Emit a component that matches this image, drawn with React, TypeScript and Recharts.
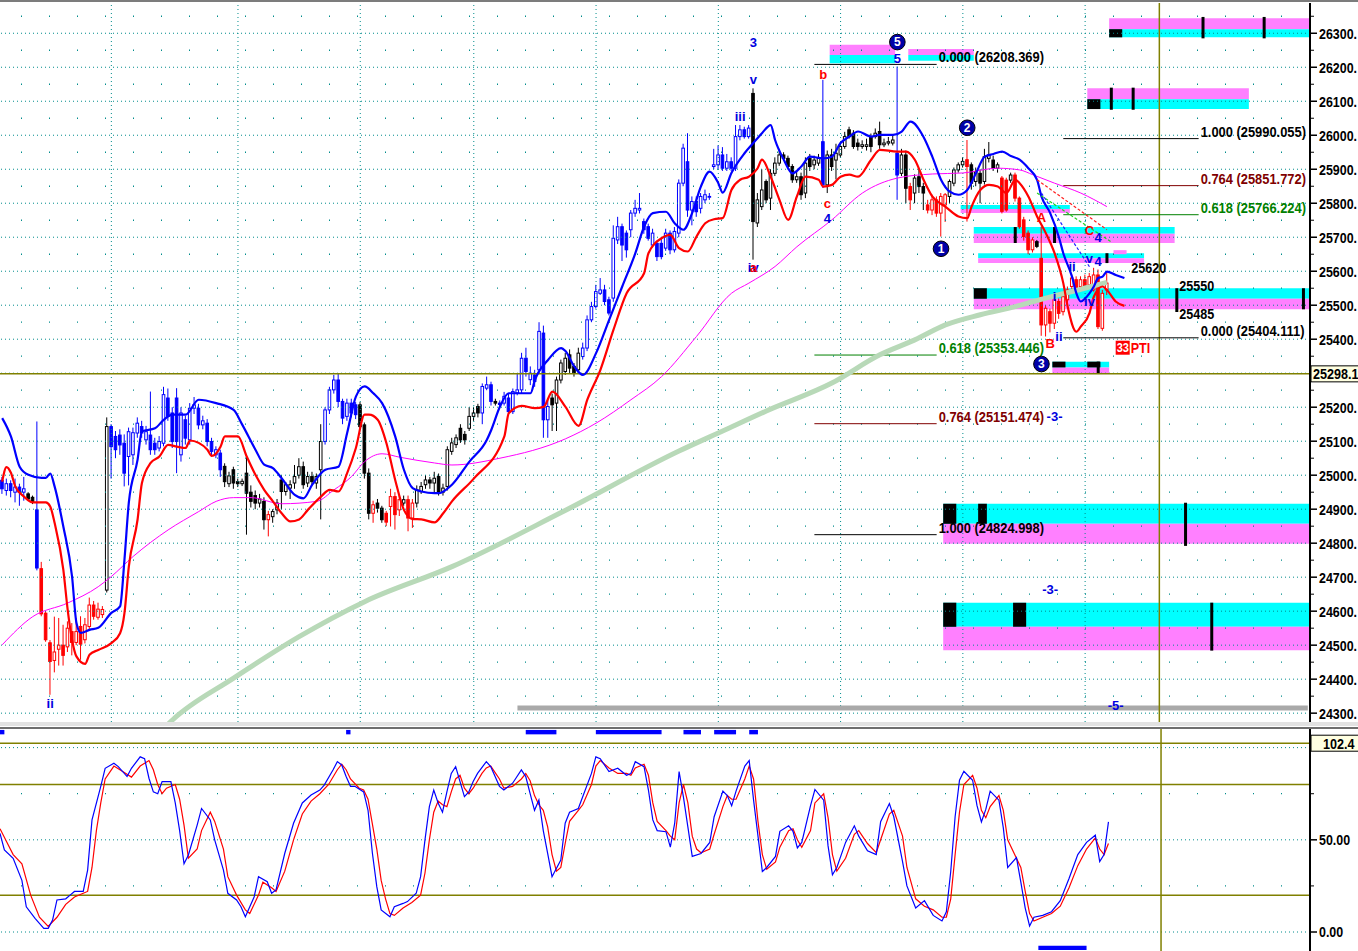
import React from "react";
import {
  ComposedChart,
  Bar,
  Line,
  XAxis,
  YAxis,
  ReferenceLine,
  ReferenceArea,
  ReferenceDot,
} from "recharts";

type Candle = [number, number, number, number, string]; // open, high, low, close, colour code
type Pt = [number, number]; // bar index, value

// ---------------- candles (bar index = position in the concatenated list) ----------------
const candlesA: Candle[] = [
  [24985, 24995, 24945, 24960, "b"], [24955, 24990, 24940, 24975, "b"], [24975, 24985, 24935, 24955, "b"],
  [24950, 24990, 24920, 24965, "b"], [24965, 24975, 24910, 24950, "b"], [24950, 24995, 24925, 24960, "b"],
  [24945, 24950, 24925, 24930, "k"], [24935, 24940, 24915, 24920, "k"], [24898, 25158, 24720, 24727, "b"],
  [24725, 24745, 24585, 24592, "r"], [24594, 24600, 24510, 24516, "r"], [24507, 24515, 24354, 24452, "r"],
  [24455, 24584, 24420, 24480, "r"], [24488, 24580, 24440, 24500, "r"], [24500, 24560, 24440, 24470, "r"],
  [24495, 24570, 24480, 24550, "r"], [24540, 24565, 24470, 24508, "r"], [24508, 24580, 24500, 24540, "r"],
  [24555, 24585, 24457, 24503, "r"], [24516, 24580, 24505, 24560, "r"], [24555, 24640, 24545, 24618, "r"],
  [24618, 24630, 24575, 24585, "r"], [24582, 24625, 24575, 24606, "r"], [24590, 24615, 24580, 24605, "r"],
  [24662, 25170, 24655, 25143, "k"], [25143, 25150, 24990, 25084, "b"], [25114, 25130, 25050, 25075, "b"],
  [25118, 25135, 25060, 25089, "b"], [25094, 25120, 24967, 25006, "b"], [25055, 25140, 24970, 25128, "b"],
  [25060, 25140, 25030, 25125, "b"], [25124, 25170, 25110, 25153, "b"], [25143, 25160, 25110, 25124, "b"],
  [25104, 25145, 25090, 25128, "b"], [25118, 25246, 25060, 25075, "b"], [25094, 25110, 25060, 25075, "b"],
  [25080, 25115, 25070, 25099, "b"], [25094, 25260, 25085, 25237, "b"], [25227, 25255, 25160, 25173, "b"],
  [25183, 25200, 25080, 25099, "b"], [25227, 25256, 25006, 25099, "b"], [25060, 25200, 25040, 25183, "b"],
  [25163, 25175, 25090, 25109, "b"], [25104, 25212, 25090, 25197, "b"], [25197, 25230, 25180, 25207, "b"],
  [25197, 25210, 25135, 25148, "b"], [25148, 25175, 25135, 25160, "b"], [25153, 25165, 25085, 25099, "b"],
  [25099, 25110, 25055, 25070, "b"], [25060, 25085, 25050, 25075, "b"], [25065, 25075, 24995, 25016, "b"],
  [25026, 25035, 24965, 24981, "k"], [24975, 25010, 24965, 24998, "k"], [25016, 25025, 24960, 24977, "k"],
  [24981, 24990, 24965, 24975, "k"], [24975, 24990, 24968, 24982, "k"], [25006, 25060, 24825, 24947, "k"],
  [24950, 24970, 24905, 24923, "k"], [24940, 24955, 24900, 24918, "k"], [24918, 24945, 24905, 24930, "k"],
  [24923, 24935, 24840, 24869, "k"], [24869, 24895, 24820, 24884, "r"], [24878, 24900, 24860, 24893, "k"],
  [24898, 24930, 24885, 24918, "k"], [24986, 25000, 24900, 24952, "k"], [24952, 24980, 24940, 24972, "k"],
  [24962, 24985, 24930, 24972, "k"], [24977, 25030, 24960, 24996, "k"], [25000, 25050, 24990, 25025, "k"],
  [25025, 25040, 24960, 24972, "k"], [24977, 25010, 24965, 24996, "k"], [24996, 25010, 24970, 24981, "k"],
  [24977, 25005, 24960, 24996, "k"], [25016, 25150, 24870, 25099, "k"], [25099, 25200, 25090, 25192, "b"],
  [25192, 25260, 25180, 25251, "b"], [25251, 25295, 25240, 25280, "b"], [25280, 25300, 25200, 25217, "b"],
  [25217, 25225, 25150, 25168, "b"], [25173, 25225, 25160, 25212, "b"], [25212, 25225, 25170, 25183, "b"],
  [25207, 25215, 25165, 25178, "b"], [25207, 25215, 25135, 25143, "k"], [25148, 25155, 24990, 25006, "k"],
  [25006, 25020, 24870, 24888, "k"], [24888, 24925, 24860, 24913, "r"], [24918, 24930, 24890, 24903, "k"],
  [24903, 24910, 24860, 24869, "k"], [24888, 24895, 24850, 24862, "r"], [24908, 24960, 24849, 24937, "r"],
  [24937, 24950, 24840, 24884, "r"], [24898, 24940, 24880, 24928, "r"], [24918, 24940, 24910, 24928, "k"],
  [24928, 24940, 24835, 24874, "r"], [24874, 24930, 24845, 24918, "r"], [24918, 24970, 24905, 24957, "k"],
  [24952, 24980, 24945, 24967, "k"], [24972, 25000, 24960, 24986, "k"], [24986, 24995, 24960, 24977, "k"],
  [24977, 25010, 24945, 24991, "k"], [24996, 25005, 24940, 24952, "k"], [24950, 24975, 24940, 24962, "k"],
  [24967, 25085, 24955, 25075, "k"],
];

const candlesB: Candle[] = [
  [25070, 25110, 25060, 25095, "k"], [25090, 25120, 25080, 25110, "k"], [25138, 25150, 25095, 25104, "k"],
  [25120, 25130, 25090, 25104, "k"], [25138, 25200, 25130, 25173, "k"], [25173, 25200, 25160, 25183, "k"],
  [25202, 25210, 25170, 25183, "k"], [25183, 25270, 25150, 25261, "b"], [25256, 25290, 25250, 25266, "b"],
  [25266, 25275, 25205, 25217, "b"], [25217, 25225, 25205, 25212, "k"], [25212, 25220, 25200, 25208, "b"],
  [25212, 25245, 25205, 25232, "b"], [25227, 25240, 25175, 25187, "b"], [25187, 25255, 25180, 25246, "b"],
  [25242, 25300, 25235, 25251, "b"], [25251, 25360, 25240, 25344, "b"], [25344, 25375, 25290, 25305, "b"],
  [25281, 25320, 25265, 25300, "b"], [25295, 25310, 25260, 25276, "b"], [25310, 25450, 25300, 25423, "b"],
  [25418, 25440, 25110, 25163, "b"], [25163, 25220, 25110, 25202, "b"], [25227, 25240, 25130, 25207, "k"],
  [25212, 25290, 25130, 25280, "k"], [25280, 25340, 25270, 25330, "k"], [25305, 25360, 25295, 25344, "k"],
  [25354, 25370, 25300, 25315, "k"], [25320, 25330, 25290, 25300, "k"], [25310, 25375, 25300, 25359, "k"],
  [25349, 25390, 25340, 25374, "b"], [25374, 25470, 25365, 25457, "b"], [25457, 25510, 25450, 25496, "b"],
  [25496, 25560, 25490, 25540, "b"], [25535, 25580, 25530, 25545, "b"], [25545, 25560, 25500, 25511, "b"],
  [25516, 25525, 25470, 25477, "b"], [25521, 25735, 25510, 25697, "b"], [25692, 25760, 25680, 25731, "b"],
  [25731, 25740, 25630, 25677, "b"], [25712, 25720, 25640, 25663, "b"], [25722, 25780, 25700, 25771, "b"],
  [25771, 25810, 25760, 25785, "b"], [25780, 25830, 25770, 25785, "b"], [25746, 25755, 25710, 25722, "b"],
  [25731, 25740, 25690, 25697, "b"], [25677, 25725, 25670, 25712, "b"], [25682, 25690, 25630, 25643, "b"],
  [25682, 25700, 25635, 25643, "b"], [25668, 25725, 25660, 25712, "b"], [25712, 25720, 25650, 25663, "b"],
  [25663, 25730, 25655, 25717, "b"], [25712, 25870, 25700, 25859, "b"], [25859, 25975, 25850, 25962, "b"],
  [25922, 26006, 25760, 25780, "b"], [25780, 25820, 25735, 25805, "b"], [25805, 25820, 25760, 25775, "b"],
  [25785, 25830, 25770, 25820, "b"], [25810, 25840, 25800, 25825, "b"], [25818, 25830, 25810, 25820, "b"],
  [25908, 25960, 25900, 25913, "b"], [25913, 25970, 25900, 25942, "b"], [25942, 25965, 25895, 25903, "b"],
  [25903, 25945, 25895, 25922, "b"], [25922, 25935, 25895, 25903, "b"], [25903, 26030, 25895, 25996, "b"],
  [25996, 26030, 25985, 26016, "b"], [26016, 26025, 25990, 25996, "b"], [25996, 26030, 25990, 26021, "b"],
  [26123, 26138, 25634, 25746, "k"], [25742, 25830, 25730, 25810, "k"], [25790, 25900, 25780, 25839, "k"],
  [25864, 25870, 25800, 25810, "k"], [25815, 25900, 25780, 25888, "k"], [25888, 25935, 25880, 25918, "k"],
  [25918, 25960, 25910, 25942, "k"], [25942, 25950, 25925, 25932, "k"], [25932, 25940, 25900, 25908, "k"],
  [25908, 25915, 25860, 25869, "k"], [25869, 25895, 25860, 25878, "k"], [25878, 25890, 25810, 25825, "k"],
  [25830, 25935, 25815, 25918, "k"], [25932, 25945, 25895, 25908, "k"], [25913, 25940, 25900, 25927, "k"],
  [25918, 25945, 25910, 25932, "k"], [25981, 26163, 25845, 25854, "b"], [25854, 25955, 25830, 25942, "k"],
  [25942, 25960, 25895, 25908, "k"], [25927, 25975, 25870, 25947, "k"], [25942, 25980, 25935, 25967, "k"],
  [25967, 26010, 25960, 25996, "k"], [26016, 26025, 25990, 25996, "k"], [26006, 26015, 25960, 25967, "k"],
  [25977, 25990, 25955, 25967, "k"], [25967, 25985, 25960, 25972, "k"], [25967, 25990, 25955, 25972, "k"],
  [25996, 26005, 25950, 25967, "k"], [25996, 26020, 25990, 26006, "k"], [26011, 26040, 25960, 25972, "k"],
  [25972, 25990, 25965, 25977, "k"], [25977, 25995, 25970, 25981, "k"], [25977, 26000, 25970, 25986, "k"],
  [25947, 26202, 25810, 25883, "b"], [25888, 25960, 25880, 25942, "k"], [25942, 25955, 25800, 25844, "k"],
];

const candlesC: Candle[] = [
  [25849, 25860, 25780, 25810, "r"], [25830, 25885, 25800, 25874, "k"], [25878, 25900, 25830, 25849, "k"],
  [25849, 25860, 25780, 25830, "k"], [25795, 25810, 25770, 25780, "r"], [25780, 25825, 25765, 25810, "r"],
  [25810, 25820, 25760, 25771, "r"], [25771, 25830, 25702, 25820, "r"], [25795, 25830, 25745, 25825, "r"],
  [25820, 25870, 25800, 25864, "k"], [25859, 25905, 25850, 25898, "k"], [25898, 25920, 25890, 25913, "k"],
  [25913, 25935, 25905, 25923, "k"], [25928, 25986, 25746, 25908, "r"], [25913, 25920, 25840, 25859, "k"],
  [25864, 25905, 25850, 25893, "k"], [25888, 25900, 25800, 25859, "k"], [25864, 25960, 25855, 25937, "k"],
  [25932, 25980, 25920, 25942, "k"], [25927, 25940, 25895, 25903, "k"], [25903, 25920, 25890, 25913, "k"],
  [25874, 25880, 25770, 25776, "r"], [25868, 25875, 25775, 25780, "r"], [25868, 25890, 25860, 25883, "k"],
  [25883, 25890, 25805, 25815, "r"], [25815, 25820, 25725, 25731, "r"], [25751, 25760, 25690, 25702, "r"],
  [25712, 25720, 25650, 25663, "r"], [25663, 25700, 25655, 25692, "r"], [25687, 25692, 25668, 25673, "k"],
  [25638, 25731, 25410, 25442, "r"], [25442, 25500, 25408, 25491, "r"], [25481, 25490, 25420, 25447, "r"],
  [25447, 25525, 25430, 25516, "r"], [25511, 25520, 25460, 25476, "r"], [25481, 25535, 25470, 25525, "r"],
  [25516, 25555, 25505, 25545, "r"], [25555, 25590, 25545, 25580, "r"], [25575, 25585, 25540, 25550, "r"],
  [25555, 25585, 25545, 25575, "r"], [25575, 25590, 25545, 25555, "r"], [25560, 25595, 25550, 25584, "r"],
  [25545, 25610, 25540, 25589, "r"], [25589, 25605, 25430, 25437, "r"], [25432, 25545, 25425, 25535, "r"],
  [25545, 25600, 25530, 25565, "r"],
];

// ---------------- overlay lines ----------------
const upperBand: Pt[] = [
  [0, 25168], [2, 25114], [4, 25025], [6, 25001], [9, 24992], [10, 24992], [11, 25005], [12, 24967], [14, 24849],
  [16, 24702], [17, 24566], [18, 24536], [20, 24545], [22, 24551], [25, 24595], [27, 24614], [28, 24751], [29, 24919],
  [31, 25045], [32, 25129], [35, 25138], [37, 25163], [39, 25178], [42, 25178], [45, 25222], [49, 25212], [53, 25192],
  [55, 25148], [58, 25075], [60, 25031], [62, 25021], [64, 24991], [67, 24942], [69, 24932], [71, 24972], [74, 25016],
  [77, 25025], [79, 25124], [81, 25231], [83, 25261], [85, 25241], [87, 25212], [90, 25114], [92, 25016], [94, 24962],
  [96, 24952], [99, 24947], [100, 24947], [103, 24972], [107, 25040], [111, 25104], [112, 25133], [114, 25202],
  [116, 25241], [119, 25241], [121, 25241], [122, 25280], [125, 25339], [128, 25374], [129, 25365], [131, 25320],
  [133, 25295], [136, 25359], [139, 25457], [142, 25555], [145, 25653], [147, 25731], [149, 25771], [152, 25775],
  [154, 25741], [156, 25722], [158, 25771], [160, 25849], [162, 25893], [164, 25859], [165, 25831], [167, 25889],
  [170, 25947], [172, 25977], [174, 26006], [176, 26030], [177, 25986], [179, 25928], [181, 25888], [183, 25908],
  [185, 25937], [188, 25932], [190, 25937], [192, 25977], [194, 25996], [196, 26011], [199, 25996], [201, 26001],
  [204, 26001], [206, 26011], [208, 26040], [211, 25995], [213, 25937], [215, 25869], [217, 25834], [219, 25825],
  [221, 25839], [223, 25888], [225, 25937], [227, 25945], [229, 25952], [231, 25939], [233, 25928], [235, 25903],
  [237, 25869], [238, 25820], [240, 25771], [242, 25700], [243, 25653], [245, 25584], [246, 25535], [247, 25511],
  [248, 25520], [250, 25555], [251, 25580], [252, 25584], [253, 25599], [255, 25589], [257, 25580],
];

const lowerBand: Pt[] = [
  [0, 24981], [1, 25024], [2, 25007], [3, 24967], [5, 24937], [7, 24920], [10, 24920], [11, 24908], [12, 24860],
  [14, 24722], [15, 24604], [16, 24516], [17, 24467], [19, 24445], [20, 24472], [22, 24486], [25, 24506], [27, 24535],
  [28, 24594], [29, 24731], [31, 24869], [32, 24977], [34, 25036], [36, 25055], [38, 25089], [40, 25084], [42, 25080],
  [43, 25102], [45, 25095], [47, 25075], [48, 25057], [50, 25084], [51, 25114], [54, 25114], [56, 25055], [58, 25001],
  [60, 24957], [62, 24923], [64, 24888], [66, 24864], [68, 24870], [70, 24898], [73, 24937], [75, 24957], [77, 24952],
  [79, 25006], [81, 25080], [83, 25178], [84, 25178], [86, 25163], [88, 25094], [90, 24986], [92, 24898], [94, 24871],
  [96, 24870], [99, 24861], [101, 24888], [103, 24923], [108, 24990], [115, 25114], [116, 25182], [119, 25204],
  [122, 25197], [124, 25201], [126, 25246], [129, 25201], [132, 25145], [134, 25222], [137, 25310], [140, 25428],
  [143, 25535], [147, 25594], [148, 25653], [151, 25697], [153, 25707], [155, 25668], [157, 25658], [159, 25702],
  [161, 25741], [163, 25753], [165, 25756], [167, 25839], [169, 25869], [171, 25878], [173, 25903], [174, 25928],
  [176, 25878], [178, 25810], [180, 25751], [182, 25820], [184, 25878], [187, 25869], [188, 25849], [190, 25854],
  [192, 25878], [194, 25884], [196, 25878], [199, 25928], [201, 25957], [205, 25952], [207, 25952], [209, 25928],
  [211, 25869], [213, 25820], [216, 25790], [219, 25761], [221, 25756], [222, 25790], [224, 25839], [226, 25854],
  [228, 25849], [230, 25830], [232, 25869], [233, 25859], [235, 25820], [237, 25761], [239, 25712], [241, 25653],
  [243, 25565], [244, 25496], [246, 25422], [247, 25437], [249, 25477], [250, 25525], [252, 25555], [253, 25545],
  [255, 25511], [257, 25498],
];

const maShort: Pt[] = [
  [0, 24501], [7, 24584], [15, 24624], [22, 24672], [25, 24702], [30, 24761], [38, 24839], [45, 24893], [49, 24923],
  [53, 24934], [57, 24934], [64, 24916], [72, 24923], [76, 24957], [80, 24996], [83, 25040], [87, 25063], [91, 25053],
  [99, 25036], [103, 25030], [114, 25050], [129, 25107], [136, 25153], [144, 25222], [151, 25290], [159, 25408],
  [167, 25535], [171, 25565], [177, 25614], [182, 25672], [190, 25751], [197, 25830], [205, 25874], [213, 25886],
  [220, 25889], [228, 25903], [233, 25898], [236, 25884], [241, 25859], [247, 25830], [253, 25790],
];

const maLong: Pt[] = [
  [33, 24200], [39, 24280], [53, 24403], [68, 24525], [83, 24628], [103, 24731], [128, 24890], [155, 25071],
  [165, 25130], [175, 25189], [190, 25271], [201, 25354], [209, 25398], [216, 25442], [224, 25472], [232, 25496],
  [239, 25521], [247, 25547], [253, 25567],
];

// ---------------- stochastic ----------------
const stochK: Pt[] = [
  [0, 53.5], [1, 44.5], [3, 40], [5, 28], [6, 13.7], [8, 7.4], [10, 2], [11, 2], [12, 6.5], [13, 17.4], [15, 18],
  [16, 20], [17, 22], [19, 22], [20, 33.6], [21, 60.8], [23, 79], [24, 88.8], [26, 91.5], [27, 89.7], [29, 84.3],
  [30, 88.8], [32, 95], [33, 94], [34, 83.4], [35, 76], [36, 75], [37, 81.6], [39, 81.6], [40, 70], [41, 55], [42, 37],
  [43, 41.8], [45, 58], [46, 67], [48, 60.8], [49, 50], [51, 33.6], [52, 21], [54, 17.4], [55, 13.7], [56, 8.3],
  [58, 19], [59, 30], [61, 27.3], [62, 21], [63, 22.8], [65, 42.7], [67, 59], [69, 70], [71, 74.3], [73, 77],
  [74, 79.7], [76, 87.9], [77, 92.4], [78, 90.6], [79, 84.3], [80, 79], [81, 79], [83, 76], [84, 66], [85, 42.7],
  [86, 24.6], [87, 12], [89, 8.3], [90, 13.7], [92, 15.5], [93, 16.5], [95, 21], [96, 30], [97, 50], [98, 68],
  [99, 77], [100, 70], [101, 65], [102, 76], [103, 86], [104, 89.7], [105, 81.6], [106, 73.4], [107, 76], [108, 81.6],
  [109, 86], [111, 92.4], [112, 89.7], [114, 79], [115, 77], [117, 80.7], [119, 87.9], [120, 84.3], [121, 75],
  [122, 66], [123, 71.6], [124, 55], [125, 42.7], [126, 30], [128, 39], [129, 59], [130, 65], [132, 67], [133, 73.4],
  [135, 86], [136, 95], [137, 94], [139, 87], [141, 88.8], [143, 85], [144, 86], [145, 92.4], [147, 89.7], [148, 77],
  [149, 60.8], [150, 55], [152, 54.4], [153, 46], [154, 59], [155, 87], [156, 73], [157, 57], [158, 41], [160, 42.6],
  [162, 48.6], [163, 62.5], [165, 76.4], [166, 74], [167, 68.5], [168, 76.4], [170, 90], [171, 93], [172, 71.5],
  [174, 32.8], [175, 35], [177, 41], [178, 54.6], [180, 57.6], [181, 54.6], [182, 45.6], [183, 48.6], [185, 68.5],
  [186, 77.3], [188, 71.5], [189, 46.7], [190, 31], [191, 35], [193, 48.6], [195, 57.6], [196, 52], [198, 44],
  [200, 42], [201, 59.8], [203, 69.7], [204, 62.5], [206, 38.2], [207, 25], [209, 13], [211, 17], [213, 9], [215, 6],
  [216, 11], [217, 32.8], [218, 62.5], [219, 82.3], [220, 87.2], [222, 82.3], [223, 68.5], [224, 59.7], [225, 66.5],
  [226, 76.4], [228, 71.5], [229, 56.5], [230, 35], [232, 40.4], [233, 27], [234, 13], [235, 3.3], [236, 8], [238, 9],
  [240, 11], [242, 17], [244, 29], [246, 42], [248, 48.6], [250, 52.5], [251, 38.2], [252, 42], [253, 59.7],
];

const stochD: Pt[] = [
  [0, 56], [3, 42], [5, 37], [7, 20], [9, 8], [11, 3], [13, 8], [15, 15], [17, 19], [19, 21], [20, 22], [21, 35],
  [22, 55], [23, 70], [24, 83], [26, 90], [28, 87], [30, 84], [32, 90], [34, 93], [35, 88], [36, 80], [37, 75], [38, 78],
  [40, 80], [41, 72], [42, 58], [43, 40], [45, 45], [46, 55], [48, 65], [49, 60], [51, 45], [52, 30], [54, 20], [56, 12],
  [57, 10], [59, 20], [60, 27], [62, 24], [63, 22], [65, 33], [67, 50], [69, 64], [71, 71], [73, 75], [75, 80], [77, 88],
  [78, 91], [79, 88], [80, 83], [82, 78], [83, 77], [84, 72], [86, 45], [87, 28], [88, 18], [89, 10], [90, 9], [92, 13],
  [94, 16], [96, 20], [97, 32], [98, 50], [99, 65], [100, 71], [101, 69], [102, 68], [103, 76], [104, 83], [105, 85],
  [106, 78], [107, 75], [108, 78], [110, 86], [111, 89], [112, 90], [114, 83], [115, 78], [117, 79], [119, 83], [120, 86],
  [121, 82], [122, 74], [123, 69], [124, 66], [125, 57], [126, 42], [127, 33], [128, 35], [129, 48], [130, 60], [132, 66],
  [133, 69], [135, 80], [136, 90], [137, 93], [139, 89], [141, 86], [143, 86], [144, 85], [145, 89], [147, 91], [148, 85],
  [149, 70], [150, 60], [152, 55], [153, 52], [154, 50], [155, 70], [156, 80], [157, 70], [158, 52], [159, 45], [160, 43],
  [162, 45], [163, 53], [165, 68], [166, 74], [167, 72], [168, 72], [170, 83], [171, 90], [172, 83], [173, 60], [174, 42],
  [175, 34], [177, 38], [178, 46], [180, 55], [181, 56], [182, 50], [183, 46], [185, 55], [186, 70], [188, 75], [189, 62],
  [190, 42], [191, 33], [193, 40], [195, 53], [196, 55], [198, 48], [200, 43], [201, 50], [203, 64], [204, 66], [206, 52],
  [207, 35], [209, 18], [211, 14], [213, 12], [215, 8], [216, 8], [217, 18], [218, 42], [219, 65], [220, 80], [222, 85],
  [223, 78], [224, 66], [225, 62], [226, 68], [228, 74], [229, 66], [230, 50], [232, 40], [233, 35], [234, 22], [235, 10],
  [236, 6], [238, 8], [240, 10], [242, 14], [244, 24], [246, 36], [248, 45], [250, 51], [251, 45], [252, 42], [253, 48],
];

// ---------------- scales / levels ----------------
const SLOTS = 300;
const priceDomain: [number, number] = [24274, 26389];
const stochDomain: [number, number] = [-10.3, 110.1];
const lastPrice = 25298.1;
const lastStoch = 102.4;
const cursorIndex = 265;
const sessionStarts = [25, 54, 82, 108, 136, 164, 192, 220, 248];
const priceGridLevels = [
  24300, 24400, 24500, 24600, 24700, 24800, 24900, 25000, 25100, 25200, 25300,
  25400, 25500, 25600, 25700, 25800, 25900, 26000, 26100, 26200, 26300,
];
const priceHalfLevels = [
  24350, 24450, 24550, 24650, 24750, 24850, 24950, 25050, 25150, 25250, 25350,
  25450, 25550, 25650, 25750, 25850, 25950, 26050, 26150, 26250, 26350,
];
const stochGrid = [0, 50, 100];
const stochHalf = [25, 75];
const stochBands = [20, 80, lastStoch];

const fibLevels = [
  { from: 186, to: 214, price: 26208.369, ratio: "0.000", color: "#000000" },
  { from: 186, to: 214, price: 25353.446, ratio: "0.618", color: "#008000" },
  { from: 186, to: 214, price: 25151.474, ratio: "0.764", color: "#800000" },
  { from: 186, to: 214, price: 24824.998, ratio: "1.000", color: "#000000" },
  { from: 243, to: 274, price: 25990.055, ratio: "1.000", color: "#000000" },
  { from: 243, to: 274, price: 25851.772, ratio: "0.764", color: "#800000" },
  { from: 243, to: 274, price: 25766.224, ratio: "0.618", color: "#008000" },
  { from: 243, to: 274, price: 25404.111, ratio: "0.000", color: "#000000" },
];

const CY = "#00ffff";
const MG = "#ff80ff";
const BK = "#000000";
const zones = [
  { x1: 254, x2: 299, y1: 26344, y2: 26312, fill: MG }, { x1: 254, x2: 299, y1: 26312, y2: 26288, fill: CY },
  { x1: 254, x2: 256, y1: 26312, y2: 26288, fill: BK },
  { x1: 249, x2: 285, y1: 26138, y2: 26106, fill: MG }, { x1: 249, x2: 285, y1: 26106, y2: 26077, fill: CY },
  { x1: 249, x2: 251, y1: 26106, y2: 26077, fill: BK },
  { x1: 190, x2: 204, y1: 26266, y2: 26236, fill: MG }, { x1: 190, x2: 204, y1: 26236, y2: 26212, fill: CY },
  { x1: 208, x2: 222, y1: 26254, y2: 26236, fill: MG }, { x1: 208, x2: 222, y1: 26236, y2: 26219, fill: CY },
  { x1: 220, x2: 244, y1: 25795, y2: 25783, fill: CY }, { x1: 220, x2: 244, y1: 25783, y2: 25771, fill: MG },
  { x1: 223, x2: 268, y1: 25730, y2: 25710, fill: CY }, { x1: 223, x2: 268, y1: 25710, y2: 25683, fill: MG },
  { x1: 224, x2: 261, y1: 25653, y2: 25638, fill: CY }, { x1: 224, x2: 261, y1: 25638, y2: 25624, fill: MG },
  { x1: 255, x2: 257, y1: 25662, y2: 25650, fill: MG },
  { x1: 223, x2: 299, y1: 25550, y2: 25519, fill: CY }, { x1: 223, x2: 299, y1: 25519, y2: 25488, fill: MG },
  { x1: 223, x2: 225, y1: 25550, y2: 25519, fill: BK },
  { x1: 241, x2: 253, y1: 25334, y2: 25317, fill: CY }, { x1: 241, x2: 253, y1: 25317, y2: 25300, fill: MG },
  { x1: 241, x2: 243, y1: 25334, y2: 25317, fill: BK }, { x1: 249, x2: 251, y1: 25334, y2: 25317, fill: BK },
  { x1: 216, x2: 299, y1: 24916, y2: 24857, fill: CY }, { x1: 216, x2: 299, y1: 24857, y2: 24798, fill: MG },
  { x1: 216, x2: 218, y1: 24916, y2: 24857, fill: BK }, { x1: 224, x2: 225, y1: 24916, y2: 24857, fill: BK },
  { x1: 216, x2: 299, y1: 24625, y2: 24554, fill: CY }, { x1: 216, x2: 299, y1: 24554, y2: 24485, fill: MG },
  { x1: 216, x2: 218, y1: 24625, y2: 24554, fill: BK }, { x1: 232, x2: 234, y1: 24625, y2: 24554, fill: BK },
];
const zoneBars = [
  { i: 275, y1: 26348, y2: 26285 }, { i: 289, y1: 26348, y2: 26285 }, { i: 254, y1: 26140, y2: 26075 },
  { i: 259, y1: 26140, y2: 26075 }, { i: 232, y1: 25730, y2: 25683 }, { i: 241, y1: 25730, y2: 25683 },
  { i: 253, y1: 25653, y2: 25624 }, { i: 269, y1: 25550, y2: 25480 }, { i: 298, y1: 25550, y2: 25488 },
  { i: 251, y1: 25334, y2: 25298 }, { i: 271, y1: 24919, y2: 24792 }, { i: 277, y1: 24625, y2: 24484 },
];
const trendLines = [
  { a: [237, 25869], b: [253, 25722], color: "#ff2020" },
  { a: [237, 25830], b: [254, 25686], color: "#20d020" },
  { a: [238, 25830], b: [249, 25613], color: "#2020ff" },
];
const grayBar = { from: 118, to: 299, price: 24315 };
const signalMarksTop = [[0, 1], [79, 80], [120, 127], [136, 151], [156, 160], [163, 168], [171, 173]];
const signalMarksBottom = [[237, 248]];

const BLUE_T = "#0000e0";
const RED_T = "#ff0000";
const waveLabels = [
  { i: 11, p: 24330, t: "ii", c: BLUE_T },
  { i: 172, p: 26274, t: "3", c: BLUE_T },
  { i: 172, p: 26163, t: "v", c: BLUE_T },
  { i: 169, p: 26054, t: "iii", c: BLUE_T },
  { i: 172, p: 25610, t: "iv", c: BLUE_T },
  { i: 172, p: 25610, t: "a", c: RED_T },
  { i: 188, p: 26180, t: "b", c: RED_T },
  { i: 189, p: 25800, t: "c", c: RED_T },
  { i: 189, p: 25755, t: "4", c: BLUE_T },
  { i: 205, p: 26227, t: "5", c: BLUE_T },
  { i: 238, p: 25757, t: "A", c: RED_T },
  { i: 240, p: 25389, t: "B", c: RED_T },
  { i: 249, p: 25719, t: "C", c: RED_T },
  { i: 251, p: 25698, t: "4", c: BLUE_T },
  { i: 245, p: 25613, t: "ii", c: BLUE_T },
  { i: 249, p: 25639, t: "v", c: BLUE_T },
  { i: 251, p: 25628, t: "4", c: BLUE_T },
  { i: 241, p: 25525, t: "i", c: BLUE_T },
  { i: 242, p: 25407, t: "ii", c: BLUE_T },
  { i: 249, p: 25510, t: "iv", c: BLUE_T },
  { i: 241, p: 25172, t: "-3-", c: BLUE_T },
  { i: 240, p: 24663, t: "-3-", c: BLUE_T },
  { i: 255, p: 24322, t: "-5-", c: BLUE_T },
];
const circledLabels = [
  { i: 205, p: 26274, t: "5" },
  { i: 221, p: 26022, t: "2" },
  { i: 215, p: 25666, t: "1" },
  { i: 238, p: 25327, t: "3" },
];
const priceNotes = [
  { i: 259, p: 25610, t: "25620" },
  { i: 270, p: 25557, t: "25550" },
  { i: 270, p: 25475, t: "25485" },
];
const ptiNote = { i: 255, p: 25375, count: "33", t: "PTI" };

// ---------------- tables for the library ----------------
const allCandles: Candle[] = [...candlesA, ...candlesB, ...candlesC];
const mainData: any[] = Array.from({ length: SLOTS }, (_, i) => {
  const c = allCandles[i];
  return c ? { i, o: c[0], h: c[1], l: c[2], c: c[3], col: c[4] } : { i };
});
const putPts = (rows: any[], key: string, pts: Pt[]) => pts.forEach(([i, v]) => (rows[i][key] = v));
putPts(mainData, "upper", upperBand);
putPts(mainData, "lower", lowerBand);
putPts(mainData, "maS", maShort);
putPts(mainData, "maL", maLong);

const stochData: any[] = Array.from({ length: SLOTS }, (_, i) => ({ i }));
putPts(stochData, "k", stochK);
putPts(stochData, "d", stochD);

const priceTicks = [...priceGridLevels, ...priceHalfLevels, lastPrice].filter(
  (v) => v >= priceDomain[0] && v <= priceDomain[1]
);

const SANS = '"Liberation Sans", Arial, "DejaVu Sans", sans-serif';
const TEAL = "#008c8c";
const OLIVE = "#808000";

const colourOf = (c: string) => (c === "b" ? "#0000ff" : c === "r" ? "#ff0000" : "#000000");

// bold, horizontally condensed text (the reference uses a narrow bold face)
function NText(props: {
  x: number;
  y: number;
  fill: string;
  size?: number;
  sx?: number;
  center?: boolean;
  children: React.ReactNode;
}) {
  const { x, y, fill, size = 15, sx = 0.88, center = true, children } = props;
  return (
    <text
      transform={`translate(${x},${y}) scale(${sx},1)`}
      x={0}
      y={0}
      dy={center ? "0.36em" : undefined}
      fill={fill}
      fontSize={size}
      fontWeight="bold"
      fontFamily={SANS}
    >
      {children}
    </text>
  );
}

function CandleShape(props: any) {
  const { x, y, width, height, payload } = props;
  if (!payload || payload.o == null) return null;
  const { o, h, l, c, col } = payload;
  const top = Math.min(y, y + height);
  const hgt = Math.abs(height);
  const ratio = h - l > 0 ? hgt / (h - l) : 0;
  const yOf = (v: number) => top + (h - v) * ratio;
  const color = colourOf(col);
  const cx = x + width / 2;
  const bTop = yOf(Math.max(o, c));
  const bBot = yOf(Math.min(o, c));
  const bw = 2.6;
  const up = c >= o;
  return (
    <g>
      <line x1={cx} x2={cx} y1={top} y2={top + hgt} stroke={color} strokeWidth={1} />
      <rect
        x={cx - bw / 2}
        y={bTop}
        width={bw}
        height={Math.max(bBot - bTop, 0.8)}
        fill={up ? "#ffffff" : color}
        stroke={color}
        strokeWidth={1}
      />
    </g>
  );
}

function PriceTick(props: any) {
  const { x, y, payload } = props;
  const v = payload.value;
  const ax = x - 8;
  if (v === lastPrice) {
    return (
      <g>
        <rect x={ax + 1} y={y - 8} width={60} height={16} fill="#ffffe1" stroke="#000" strokeWidth={1} />
        <NText x={ax + 3} y={y} fill="#000" size={15} sx={0.84}>
          {v.toFixed(1)}
        </NText>
      </g>
    );
  }
  if (v % 100 !== 0) {
    return <line x1={ax} x2={ax + 4} y1={y} y2={y} stroke="#000" strokeWidth={1} />;
  }
  const hidden = Math.abs(v - lastPrice) < 20; // covered by the last-price box
  return (
    <g>
      <line x1={ax} x2={ax + 7} y1={y} y2={y} stroke="#000" strokeWidth={1.5} />
      {!hidden && (
        <NText x={ax + 9} y={y} fill="#000" size={15} sx={0.83}>
          {`${v}.`}
        </NText>
      )}
    </g>
  );
}

function StochTick(props: any) {
  const { x, y, payload } = props;
  const v = payload.value;
  const ax = x - 8;
  if (v === lastStoch) {
    return (
      <g>
        <rect x={ax + 1} y={y - 8} width={60} height={16} fill="#ffffe1" stroke="#000" strokeWidth={1} />
        <NText x={ax + 13} y={y} fill="#000" size={15} sx={0.84}>
          {v.toFixed(1)}
        </NText>
      </g>
    );
  }
  if (v % 50 !== 0) {
    return <line x1={ax} x2={ax + 4} y1={y} y2={y} stroke="#000" strokeWidth={1} />;
  }
  const hidden = Math.abs(v - lastStoch) < 5;
  return (
    <g>
      <line x1={ax} x2={ax + 7} y1={y} y2={y} stroke="#000" strokeWidth={1.5} />
      {!hidden && (
        <NText x={ax + 9} y={y} fill="#000" size={15} sx={0.83}>
          {v.toFixed(2)}
        </NText>
      )}
    </g>
  );
}

export default function App() {
  return (
    <div
      style={{
        position: "absolute",
        left: 0,
        top: 0,
        width: 1358,
        height: 951,
        background: "#ffffff",
        overflow: "hidden",
      }}
    >
      <div style={{ position: "absolute", left: 0, top: 0, width: 1358, height: 2, background: "#7c7c7c" }} />
      <div style={{ position: "absolute", left: 0, top: 0 }}>
        <ComposedChart width={1358} height={722} data={mainData} margin={{ top: 3, right: 0, bottom: 0, left: 0 }}>
          <XAxis dataKey="i" hide />
          <YAxis
            orientation="right"
            width={48}
            type="number"
            domain={priceDomain}
            allowDataOverflow
            ticks={priceTicks}
            interval={0}
            tickSize={6}
            tickMargin={2}
            tickLine={false}
            axisLine={{ stroke: "#000", strokeWidth: 2 }}
            tick={<PriceTick />}
          />
          {priceGridLevels.map((v) => (
            <ReferenceLine key={"g" + v} y={v} stroke={TEAL} strokeDasharray="1 3" />
          ))}
          {priceHalfLevels.map((v) => (
            <ReferenceLine key={"h" + v} y={v} stroke={TEAL} strokeDasharray="1 27" strokeWidth={1.3} />
          ))}
          {sessionStarts.map((i) => (
            <ReferenceLine key={"s" + i} x={i} stroke={TEAL} strokeDasharray="1 3" />
          ))}
          {zones.map((z, k) => (
            <ReferenceArea
              key={"z" + k}
              x1={z.x1}
              x2={z.x2}
              y1={z.y1}
              y2={z.y2}
              fill={z.fill}
              fillOpacity={1}
              stroke="none"
            />
          ))}
          {zoneBars.map((b, k) => (
            <ReferenceLine
              key={"zb" + k}
              segment={[{ x: b.i, y: b.y1 }, { x: b.i, y: b.y2 }]}
              stroke="#000"
              strokeWidth={3}
            />
          ))}
          <ReferenceLine
            segment={[{ x: grayBar.from, y: grayBar.price }, { x: grayBar.to, y: grayBar.price }]}
            stroke="#a9a9a9"
            strokeWidth={5}
          />
          <ReferenceLine y={lastPrice} stroke={OLIVE} strokeWidth={1.5} />
          <ReferenceLine x={cursorIndex} stroke={OLIVE} strokeWidth={1.5} />
          {fibLevels.map((f, k) => (
            <ReferenceLine
              key={"f" + k}
              segment={[{ x: f.from, y: f.price }, { x: f.to, y: f.price }]}
              stroke={f.color}
              strokeWidth={1}
            />
          ))}
          <Line
            dataKey="maL"
            stroke="#b8d9b8"
            strokeWidth={5}
            dot={false}
            activeDot={false}
            connectNulls
            type="monotone"
            isAnimationActive={false}
          />
          <Line
            dataKey="maS"
            stroke="#ff00ff"
            strokeWidth={1}
            dot={false}
            activeDot={false}
            connectNulls
            type="monotone"
            isAnimationActive={false}
          />
          <Bar
            dataKey={(d: any) => (d.o == null ? null : [d.l, d.h])}
            shape={<CandleShape />}
            isAnimationActive={false}
          />
          <Line
            dataKey="upper"
            stroke="#0000ff"
            strokeWidth={2.2}
            dot={false}
            activeDot={false}
            connectNulls
            type="monotone"
            isAnimationActive={false}
          />
          <Line
            dataKey="lower"
            stroke="#ff0000"
            strokeWidth={2.2}
            dot={false}
            activeDot={false}
            connectNulls
            type="monotone"
            isAnimationActive={false}
          />
          {trendLines.map((t, k) => (
            <ReferenceLine
              key={"t" + k}
              segment={[{ x: t.a[0], y: t.a[1] }, { x: t.b[0], y: t.b[1] }]}
              stroke={t.color}
              strokeWidth={1.2}
              strokeDasharray="3 2"
            />
          ))}
          {fibLevels.map((f, k) => (
            <ReferenceDot
              key={"fl" + k}
              x={f.to}
              y={f.price}
              r={1}
              shape={(p: any) => (
                <NText x={p.cx + 2} y={p.cy - 2} fill={f.color} size={15} sx={0.86} center={false}>
                  {`${f.ratio} (${f.price.toFixed(3)})`}
                </NText>
              )}
            />
          ))}
          {priceNotes.map((n, k) => (
            <ReferenceDot
              key={"pn" + k}
              x={n.i}
              y={n.p}
              r={1}
              shape={(p: any) => (
                <NText x={p.cx - 2} y={p.cy} fill="#000" size={15} sx={0.84}>
                  {n.t}
                </NText>
              )}
            />
          ))}
          <ReferenceDot
            x={ptiNote.i}
            y={ptiNote.p}
            r={1}
            shape={(p: any) => (
              <g>
                <rect x={p.cx} y={p.cy - 7} width={14} height={14} fill="#ff0000" />
                <NText x={p.cx + 1} y={p.cy} fill="#fff" size={13} sx={0.85}>
                  {ptiNote.count}
                </NText>
                <NText x={p.cx + 15} y={p.cy} fill="#ff0000" size={14} sx={0.9}>
                  {ptiNote.t}
                </NText>
              </g>
            )}
          />
          {waveLabels.map((w, k) => (
            <ReferenceDot
              key={"w" + k}
              x={w.i}
              y={w.p}
              r={1}
              shape={(p: any) => (
                <text
                  x={p.cx}
                  y={p.cy}
                  dy="0.35em"
                  textAnchor="middle"
                  fill={w.c}
                  fontSize={13}
                  fontWeight="bold"
                  fontFamily={SANS}
                >
                  {w.t}
                </text>
              )}
            />
          ))}
          {circledLabels.map((w, k) => (
            <ReferenceDot
              key={"c" + k}
              x={w.i}
              y={w.p}
              r={1}
              shape={(p: any) => (
                <g>
                  <circle cx={p.cx} cy={p.cy} r={7.8} fill="#0000a8" stroke="#000" strokeWidth={1} />
                  <text
                    x={p.cx}
                    y={p.cy}
                    dy="0.36em"
                    textAnchor="middle"
                    fill="#fff"
                    fontSize={12}
                    fontWeight="bold"
                    fontFamily={SANS}
                  >
                    {w.t}
                  </text>
                </g>
              )}
            />
          ))}
        </ComposedChart>
      </div>
      <div style={{ position: "absolute", left: 0, top: 722, width: 1358, height: 4, background: "#e2e2e2" }} />
      <div style={{ position: "absolute", left: 0, top: 727, width: 1358, height: 2, background: "#6e6e6e" }} />
      <div style={{ position: "absolute", left: 0, top: 729 }}>
        <ComposedChart width={1358} height={222} data={stochData} margin={{ top: 0, right: 0, bottom: 0, left: 0 }}>
          <XAxis dataKey="i" hide />
          <YAxis
            orientation="right"
            width={48}
            type="number"
            domain={stochDomain}
            allowDataOverflow
            ticks={[0, 25, 50, 75, 100, lastStoch]}
            interval={0}
            tickSize={6}
            tickMargin={2}
            tickLine={false}
            axisLine={{ stroke: "#000", strokeWidth: 2 }}
            tick={<StochTick />}
          />
          {stochGrid.map((v) => (
            <ReferenceLine key={"sg" + v} y={v} stroke={TEAL} strokeDasharray="1 3" />
          ))}
          {stochHalf.map((v) => (
            <ReferenceLine key={"sh" + v} y={v} stroke={TEAL} strokeDasharray="1 27" strokeWidth={1.3} />
          ))}
          {stochBands.map((v) => (
            <ReferenceLine key={"sb" + v} y={v} stroke={OLIVE} strokeWidth={1.5} />
          ))}
          <ReferenceLine x={cursorIndex} stroke={OLIVE} strokeWidth={1.5} />
          {signalMarksTop.map(([a, b], k) => (
            <ReferenceArea key={"mt" + k} x1={a} x2={b} y1={107.2} y2={109.6} fill="#0000ff" fillOpacity={1} stroke="none" />
          ))}
          {signalMarksBottom.map(([a, b], k) => (
            <ReferenceArea key={"mb" + k} x1={a} x2={b} y1={-9.8} y2={-7.4} fill="#0000ff" fillOpacity={1} stroke="none" />
          ))}
          <Line
            dataKey="d"
            stroke="#ff0000"
            strokeWidth={1.2}
            dot={false}
            activeDot={false}
            connectNulls
            type="linear"
            isAnimationActive={false}
          />
          <Line
            dataKey="k"
            stroke="#0000ff"
            strokeWidth={1.2}
            dot={false}
            activeDot={false}
            connectNulls
            type="linear"
            isAnimationActive={false}
          />
        </ComposedChart>
      </div>
    </div>
  );
}
